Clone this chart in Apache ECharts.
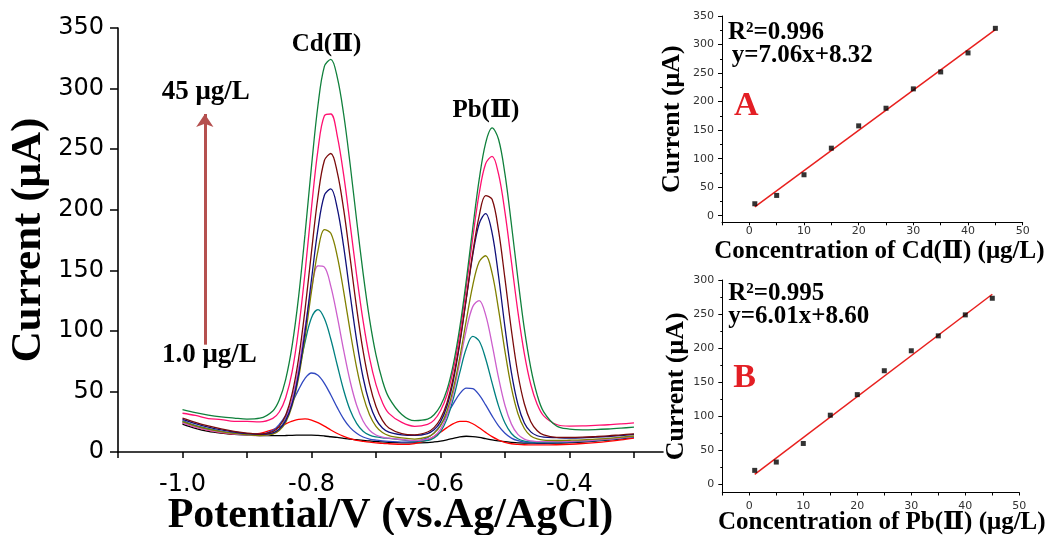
<!DOCTYPE html>
<html><head><meta charset="utf-8">
<script src="https://cdn.jsdelivr.net/npm/echarts@6/dist/echarts.min.js"></script>
<style>html,body{margin:0;padding:0;background:#fff}#c{width:1054px;height:535px}</style>
</head><body><div id="c"></div>
<script>
// Potential (V) sample points
const potential = [-1.00,-0.98,-0.96,-0.94,-0.92,-0.90,-0.88,-0.86,-0.85,-0.84,-0.83,-0.82,-0.81,-0.80,-0.79,-0.78,-0.77,-0.76,-0.75,-0.74,-0.73,-0.72,-0.71,-0.70,-0.69,-0.68,-0.66,-0.64,-0.62,-0.61,-0.60,-0.59,-0.58,-0.57,-0.56,-0.55,-0.54,-0.53,-0.52,-0.51,-0.50,-0.49,-0.48,-0.47,-0.46,-0.45,-0.44,-0.42,-0.40,-0.38,-0.36,-0.34,-0.32,-0.30];
// Current (μA) per concentration
const cur1  = [23,19.5,17,15.5,14.5,14,13.6,13.5,13.5,13.6,13.8,13.9,14,14,13.7,13.2,12.6,12,11.3,10.7,10.1,9.6,9.1,8.7,8.3,8,7.6,7.5,7.8,8.3,9,10,11.3,12.5,13,12.7,12,11,10,9.2,8.5,8,7.6,7.4,7.3,7.2,7.2,7.3,7.7,8.2,8.9,9.8,10.8,12];
const cur5  = [24,20.5,17.8,16,14.8,14.5,15.4,18.4,20.6,23.2,25.4,27,27.3,26.4,24.2,21.4,18.2,15.3,12.9,11,9.6,8.8,8.1,7.6,7.1,6.8,6.3,7,10,12.8,16.3,20.1,23.4,25.2,25.2,23.3,20,16.2,12.7,9.9,7.9,6.8,6.3,6,5.9,5.8,5.8,6,6.4,7,7.8,8.8,10,11.5];
const cur10 = [26,22,19.2,17,15.5,14.5,14.5,17.9,22.7,30.3,40.5,51.5,60.8,65.2,63.4,56.7,47,36.6,27.2,20.1,15.4,12.4,10.7,9.8,9.2,8.8,8.2,8.5,11.8,15.8,22.2,30.7,40,48.2,52.8,52.3,47.1,38.9,29.8,21.6,15.5,11.5,9.3,8.2,7.8,7.5,7.5,7.8,8.2,8.8,9.5,10.4,11.5,12.7];
const cur15 = [25,21.5,18.8,16.7,15.2,14.2,13.8,15.3,19.1,27.7,43,65.5,90.8,110.9,117.5,110.2,93.1,71.6,50.8,34.4,23.6,17.1,13.9,12.4,11.7,11.2,10.1,9,9.5,11.6,16.7,27.2,44.3,65.7,85.4,95.4,91.6,77,57,38.1,23.9,15.3,10.9,9,8.3,8,8,8.2,8.5,9,9.6,10.5,11.6,12.8];
const cur20 = [24,20.5,18,16.2,15,14,13.5,15,18.4,26.8,43.2,69.4,102.9,134.8,153.6,152.6,136.7,111.7,83.6,58.2,38.6,25.6,18,14,12.2,11.4,10.3,9.5,10.6,13,18.7,30.2,49,74.1,100.6,120,125,113.2,88.9,61.4,38.4,23,14.5,10.6,9.1,8.6,8.5,8.6,8.8,9.2,9.8,10.6,11.6,12.7];
const cur25 = [25,21.5,18.8,16.8,15.3,14.2,13.6,14.8,17.7,24.4,38.1,61.2,94.3,132.6,166,183.6,180.5,161.5,132.2,99.5,69.7,46.5,30.8,21.2,16.1,13.6,11.6,10.7,12.5,15.4,21.7,33.6,52.3,78.3,108.6,137.4,157.1,162,147.6,117.8,83.1,52.9,31.8,19.4,13.3,10.8,9.8,9.5,9.7,10,10.6,11.3,12.2,13.2];
const cur30 = [27,23.5,20.5,18.2,16.5,15.2,14.5,15.8,18.9,25.9,39.8,64,99.5,142.4,183.9,211.9,217.2,201.1,169.1,129.8,92.2,61.5,40.2,26.9,19.8,16.4,14.2,13.7,15.2,18.3,24.9,37.8,59.2,89.8,126.3,162.4,188.4,196.8,180.9,145.3,102.9,65.5,39.4,24,16.6,13.4,12.3,11.8,11.5,11.7,12.2,12.8,13.6,14.5];
const cur35 = [28,24.5,21.5,19,17,15.5,14.8,16.8,21.1,30.4,48.1,77,117.6,165.3,210.5,240.6,246.4,230.9,199.8,159.8,118.9,83.4,56.2,37.6,26.1,19.8,15.2,14.2,16.5,20.1,27.4,40.5,61.7,91.2,126.9,164.3,195,211.7,208.6,182.9,142.9,100.4,64.6,39.8,25,17.5,14.1,12.1,12,12.2,12.7,13.3,14.2,15];
const cur40 = [32,30.2,27.6,26.8,25.3,25.2,24.9,27.8,33,44.8,66.3,101.3,148.3,201.6,249.2,277.6,279,260.8,228.3,187.7,145.9,108.2,77.7,55.6,40.8,31.9,24.4,21.2,22.8,26.3,34,47.1,68,98,136,176.7,213.4,237.9,244,229.5,197.8,157,115.9,81.2,55.7,39.3,29.8,22.7,21.4,21.5,22,22.5,23.2,24];
const cur45 = [35,32.5,30.5,29,28,27.2,27.9,33.9,42.9,60,87.8,128,179.8,235.8,286,318.3,324.1,309.2,278.4,237.1,191.3,147.7,109.7,80.1,58.9,44.9,31,25.9,27.1,30.8,38.2,51.2,72.6,103,141.6,184.7,225,255,267.5,258.2,229.3,187.8,143.2,101.8,69.5,47,33.2,21.5,18.9,18.3,18.5,19,19.7,20.5];
const curveColors = ['#000000','#ff0000','#3048c0','#008080','#cc5fcc','#808000','#10107a','#7a0a0a','#ff1070','#10803c'];

// Calibration data
const concentration = [1,5,10,15,20,25,30,35,40,45];
const peakCd = [21,35.6,71.8,118.4,157.5,188.4,222.3,252,285.3,328.4];
const peakPb = [20.5,32.7,60,101.5,131.7,166.8,196.1,218,248.8,273.2];
const fitCd = [[1,15.4],[45,326.0]];
const fitPb = [[1,14.6],[45,279.1]];

// Tick values
const mainXTicks = [-1.1,-1.0,-0.9,-0.8,-0.7,-0.6,-0.5,-0.4,-0.3];
const mainXLabels = [-1.0,-0.8,-0.6,-0.4];
const insetXTicks = [-5,0,5,10,15,20,25,30,35,40,45,50];
const insetXLabels = [0,10,20,30,40,50];
const insetAYLabels = [0,50,100,150,200,250,300,350];
const insetAYMinor = [25,75,125,175,225,275,325];
const insetBYLabels = [0,50,100,150,200,250,300];
const insetBYMinor = [25,75,125,175,225,275];

const serif = '"Liberation Serif","Times New Roman","DejaVu Serif","Noto Sans CJK SC",serif';
const sans = '"DejaVu Sans",sans-serif';
const curves = [cur1,cur5,cur10,cur15,cur20,cur25,cur30,cur35,cur40,cur45];

const chart = echarts.init(document.getElementById('c'), null, {renderer:'canvas'});

function mainSeries(arr, i) {
  const s = {
    type:'line', xAxisIndex:0, yAxisIndex:0, smooth:0.35, symbol:'none',
    data: potential.map((x, k) => [x, arr[k]]),
    lineStyle:{color:curveColors[i], width:1.3}, itemStyle:{color:curveColors[i]},
    silent:true, z: 2 + i
  };
  if (i === 0) {
    s.markLine = {
      silent:true, symbol:['none','arrow'], symbolSize:13,
      label:{show:false},
      lineStyle:{color:'#b5504f', width:3, type:'solid'},
      emphasis:{disabled:true},
      data:[[{coord:[-0.9654, 88.6]},{coord:[-0.9654, 279]}]]
    };
  }
  return s;
}

const nameStyle = (fs) => ({fontFamily:serif, fontWeight:'bold', fontSize:fs, color:'#000'});
const insetLabel = {fontFamily:sans, fontSize:11, color:'#333'};

const option = {
  animation:false,
  backgroundColor:'#fff',
  grid:[
    {left:118, top:28, width:545, height:424, containLabel:false, outerBoundsMode:'none'},
    {left:722, top:16, width:300.7, height:206.3, containLabel:false, outerBoundsMode:'none'},
    {left:722.3, top:280, width:297, height:212.5, containLabel:false, outerBoundsMode:'none'}
  ],
  xAxis:[
    {gridIndex:0, type:'value', min:-1.1, max:-0.255,
     axisLine:{onZero:false, lineStyle:{color:'#000', width:1.6}},
     axisTick:{show:true, length:6, customValues:mainXTicks, lineStyle:{color:'#000', width:1.5}},
     axisLabel:{customValues:mainXLabels, formatter:v=>Number(v).toFixed(1), fontFamily:sans, fontSize:24, color:'#000', margin:21},
     splitLine:{show:false},
     name:'Potential/V (vs.Ag/AgCl)', nameLocation:'middle', nameGap:43, nameMoveOverlap:false,
     nameTextStyle:nameStyle(42)},
    {gridIndex:1, type:'value', min:-5, max:50,
     axisLine:{onZero:false, lineStyle:{color:'#000', width:1}},
     axisTick:{show:true, length:3, customValues:insetXTicks, lineStyle:{color:'#000'}},
     axisLabel:Object.assign({customValues:insetXLabels, margin:3}, insetLabel),
     splitLine:{show:false},
     name:'Concentration of Cd(Ⅱ) (μg/L)', nameLocation:'middle', nameGap:17, nameMoveOverlap:false,
     nameTextStyle:Object.assign(nameStyle(25), {padding:[0,0,0,14]})},
    {gridIndex:2, type:'value', min:-5, max:50,
     axisLine:{onZero:false, lineStyle:{color:'#000', width:1}},
     axisTick:{show:true, length:3, customValues:insetXTicks, lineStyle:{color:'#000'}},
     axisLabel:Object.assign({customValues:insetXLabels, margin:8}, insetLabel),
     splitLine:{show:false},
     name:'Concentration of Pb(Ⅱ) (μg/L)', nameLocation:'middle', nameGap:18, nameMoveOverlap:false,
     nameTextStyle:Object.assign(nameStyle(25), {padding:[0,0,0,22]})}
  ],
  yAxis:[
    {gridIndex:0, type:'value', min:0, max:350, interval:50,
     axisLine:{show:true, onZero:false, lineStyle:{color:'#000', width:1.6}},
     axisTick:{show:true, length:8, lineStyle:{color:'#000', width:1.5}},
     axisLabel:{fontFamily:sans, fontSize:24, color:'#000', margin:14},
     splitLine:{show:false},
     name:'Current (μA)', nameLocation:'middle', nameGap:68, nameRotate:90, nameMoveOverlap:false,
     nameTextStyle:nameStyle(43)},
    {gridIndex:1, type:'value', min:-11.5, max:350, position:'left',
     axisLine:{show:true, onZero:false, lineStyle:{color:'#000', width:1}},
     axisTick:{show:true, length:4, customValues:insetAYLabels, lineStyle:{color:'#000'}},
     axisLabel:Object.assign({customValues:insetAYLabels, margin:8}, insetLabel),
     splitLine:{show:false},
     name:'Current (μA)', nameLocation:'middle', nameGap:37, nameRotate:90, nameMoveOverlap:false,
     nameTextStyle:nameStyle(26)},
    {gridIndex:1, type:'value', min:-11.5, max:350, position:'left', offset:0,
     axisLine:{show:false, onZero:false}, axisLabel:{show:false}, splitLine:{show:false},
     axisTick:{show:true, length:2, customValues:insetAYMinor, lineStyle:{color:'#000'}}},
    {gridIndex:2, type:'value', min:-12, max:300, position:'left',
     axisLine:{show:true, onZero:false, lineStyle:{color:'#000', width:1}},
     axisTick:{show:true, length:4, customValues:insetBYLabels, lineStyle:{color:'#000'}},
     axisLabel:Object.assign({customValues:insetBYLabels, margin:8}, insetLabel),
     splitLine:{show:false},
     name:'Current (μA)', nameLocation:'middle', nameGap:33, nameRotate:90, nameMoveOverlap:false,
     nameTextStyle:nameStyle(26)},
    {gridIndex:2, type:'value', min:-12, max:300, position:'left', offset:0,
     axisLine:{show:false, onZero:false}, axisLabel:{show:false}, splitLine:{show:false},
     axisTick:{show:true, length:2, customValues:insetBYMinor, lineStyle:{color:'#000'}}}
  ],
  series: curves.map(mainSeries).concat([
    {type:'line', xAxisIndex:1, yAxisIndex:1, data:fitCd, symbol:'none', silent:true,
     lineStyle:{color:'#e8201e', width:1.5}},
    {type:'scatter', xAxisIndex:1, yAxisIndex:1, data:concentration.map((c,k)=>[c, peakCd[k]]),
     symbol:'rect', symbolSize:5, itemStyle:{color:'#000'}, silent:true, z:5},
    {type:'line', xAxisIndex:2, yAxisIndex:3, data:fitPb, symbol:'none', silent:true,
     lineStyle:{color:'#e8201e', width:1.5}},
    {type:'scatter', xAxisIndex:2, yAxisIndex:3, data:concentration.map((c,k)=>[c, peakPb[k]]),
     symbol:'rect', symbolSize:5, itemStyle:{color:'#000'}, silent:true, z:5}
  ]),
  graphic:[
    {type:'text', x:291.7, y:44.5, silent:true, style:{text:'Cd(Ⅱ)', font:'bold 25px '+serif, fill:'#000', align:'left', verticalAlign:'middle'}},
    {type:'text', x:452.4, y:110.6, silent:true, style:{text:'Pb(Ⅱ)', font:'bold 25px '+serif, fill:'#000', align:'left', verticalAlign:'middle'}},
    {type:'text', x:161.7, y:91.7, silent:true, style:{text:'45 μg/L', font:'bold 27px '+serif, fill:'#000', align:'left', verticalAlign:'middle'}},
    {type:'text', x:162, y:355, silent:true, style:{text:'1.0 μg/L', font:'bold 27px '+serif, fill:'#000', align:'left', verticalAlign:'middle'}},
    {type:'text', x:728, y:32.5, silent:true, style:{text:'R²=0.996', font:'bold 25px '+serif, fill:'#000', align:'left', verticalAlign:'middle'}},
    {type:'text', x:731.7, y:55.5, silent:true, style:{text:'y=7.06x+8.32', font:'bold 25px '+serif, fill:'#000', align:'left', verticalAlign:'middle'}},
    {type:'text', x:734, y:106.7, silent:true, style:{text:'A', font:'bold 34px '+serif, fill:'#e31e24', align:'left', verticalAlign:'middle'}},
    {type:'text', x:728.3, y:293.8, silent:true, style:{text:'R²=0.995', font:'bold 25px '+serif, fill:'#000', align:'left', verticalAlign:'middle'}},
    {type:'text', x:728.3, y:316.3, silent:true, style:{text:'y=6.01x+8.60', font:'bold 25px '+serif, fill:'#000', align:'left', verticalAlign:'middle'}},
    {type:'text', x:733.3, y:378, silent:true, style:{text:'B', font:'bold 34px '+serif, fill:'#e31e24', align:'left', verticalAlign:'middle'}}
  ]
};
chart.setOption(option);
</script>
</body></html>
